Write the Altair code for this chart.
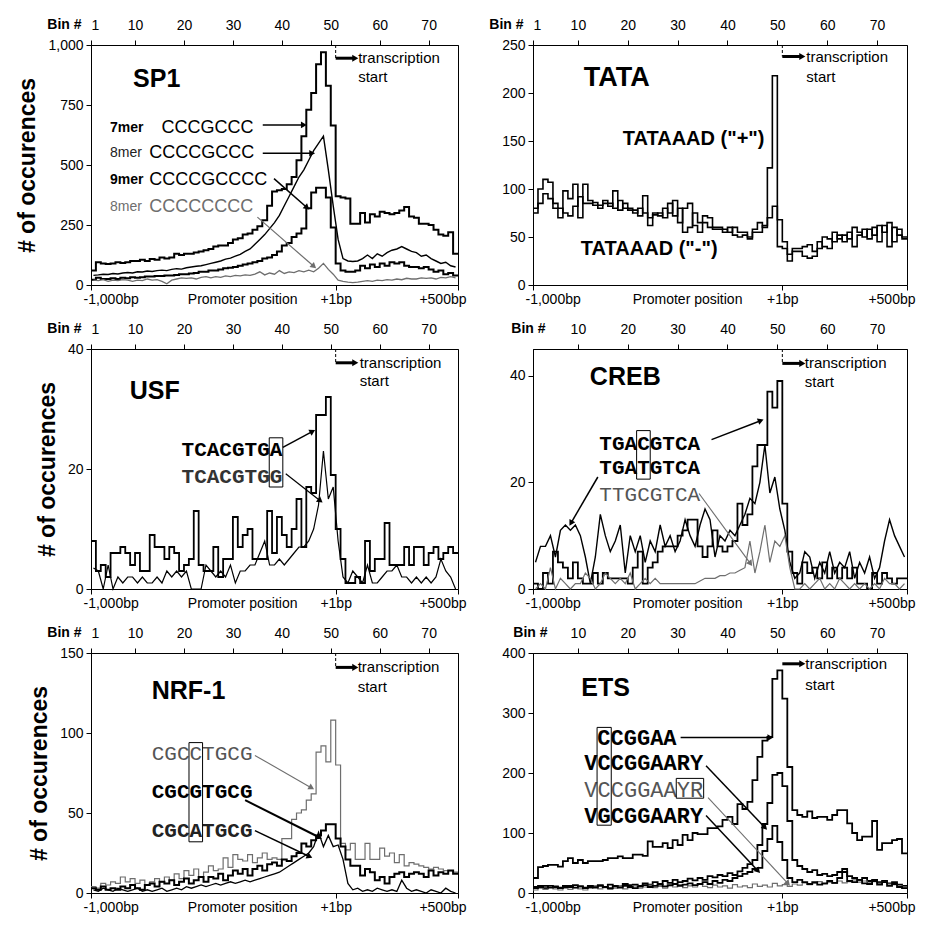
import math
import altair as alt
import pandas as pd

# ------------------------------------------------------------------ data
BIN_TICKS_FULL = [1, 10, 20, 30, 40, 50, 60, 70]
BIN_TICKS_SHORT = [10, 20, 30, 40, 50, 60, 70]
BOTTOM_VALUES = [1, 51, 76]
BOTTOM_LABELS = ["-1,000bp", "+1bp", "+500bp"]

# SP1
sp1_7mer = [60, 95, 90, 88, 90, 95, 92, 95, 100, 100, 105, 100, 108, 105, 115,
            110, 115, 130, 125, 130, 130, 135, 140, 145, 150, 160, 165, 165, 175, 190,
            195, 210, 215, 230, 245, 270, 330, 390, 395, 400, 420, 450, 520, 620, 730,
            800, 920, 970, 830, 665, 370, 365, 360, 255, 255, 300, 260, 295, 285, 305,
            300, 295, 300, 310, 325, 285, 280, 255, 255, 250, 230, 210, 205, 220, 130]
sp1_8mer = [40, 42, 45, 44, 48, 46, 50, 52, 50, 55, 54, 58, 56, 60, 62,
            60, 65, 68, 66, 72, 75, 78, 80, 85, 90, 95, 100, 108, 112, 120,
            128, 140, 150, 170, 190, 210, 235, 260, 290, 330, 370, 410, 450, 480, 520,
            560, 590, 620, 480, 330, 190, 110, 100, 98, 100, 110, 125, 110, 130, 120,
            135, 145, 150, 160, 150, 140, 135, 120, 125, 110, 100, 90, 95, 80, 75]
sp1_9mer = [22, 30, 25, 25, 28, 25, 30, 28, 32, 30, 32, 35, 35, 38, 38,
            40, 40, 42, 45, 45, 48, 50, 55, 55, 60, 60, 65, 70, 72, 75,
            80, 85, 90, 95, 100, 110, 115, 125, 140, 165, 175, 200, 215, 235, 320,
            385, 405, 405, 365, 240, 90, 60, 55, 55, 60, 80, 70, 85, 75, 90,
            80, 95, 90, 95, 80, 75, 75, 70, 75, 65, 55, 60, 45, 50, 40]
sp1_c8 = [20, 18, 22, 15, 20, 18, 22, 20, 15, 20, 18, 25, 20, 22, 15,
          5, 20, 25, 30, 28, 30, 25, 32, 35, 30, 35, 32, 38, 35, 40,
          38, 42, 40, 45, 55, 42, 50, 45, 60, 48, 55, 52, 60, 55, 62,
          55, 70, 90, 65, 45, 20, 15, 12, 10, 12, 15, 18, 15, 20, 18,
          22, 20, 25, 22, 28, 25, 25, 30, 28, 30, 25, 32, 30, 35, 30]

# TATA
tata_plus = [80, 100, 110, 107, 80, 70, 98, 90, 105, 70, 105, 88, 86, 83, 88,
             82, 98, 78, 85, 80, 78, 72, 93, 70, 75, 72, 80, 75, 88, 65,
             80, 85, 62, 55, 72, 70, 60, 60, 58, 55, 60, 55, 55, 50, 58,
             65, 60, 122, 218, 68, 45, 32, 38, 38, 40, 42, 35, 45, 40, 38,
             55, 48, 52, 48, 60, 55, 50, 58, 52, 62, 55, 65, 45, 58, 50]
tata_minus = [75, 85, 95, 90, 85, 80, 75, 72, 82, 92, 85, 85, 83, 80, 85,
              85, 80, 88, 80, 78, 75, 80, 75, 62, 73, 75, 70, 85, 72, 80,
              55, 60, 75, 65, 65, 60, 58, 58, 55, 60, 52, 50, 52, 48, 55,
              55, 62, 70, 82, 40, 38, 25, 35, 35, 30, 28, 30, 38, 50, 48,
              45, 52, 45, 55, 40, 52, 58, 48, 60, 45, 62, 40, 60, 52, 48]

# USF
usf_a = [8, 3, 4, 2, 6, 6, 7, 6, 4, 6, 3, 3, 9, 7, 7,
         5, 7, 6, 3, 4, 5, 13, 4, 3, 3, 7, 2, 5, 5, 12,
         7, 9, 10, 5, 5, 5, 13, 6, 12, 9, 7, 10, 15, 7, 17,
         16, 29, 29, 32, 19, 10, 5, 1, 1, 2, 1, 8, 3, 5, 5,
         11, 4, 4, 4, 7, 4, 7, 7, 4, 6, 7, 5, 6, 7, 6]
usf_g = [3.5, 3, 0, 4, 0, 2, 1, 2, 2, 1, 2, 1, 1, 2, 1,
         3, 2, 3, 2, 3, 0, 0, 0, 4, 3, 2, 3, 2, 4, 1,
         3, 3, 4, 4, 6, 8, 4, 4, 5, 4, 5, 6, 7, 7, 8,
         10, 14, 23, 15, 17, 8, 2, 1, 3, 2, 1, 4, 1, 1, 2,
         3, 3, 4, 2, 2, 1, 2, 1, 2, 1, 2, 5, 3, 2, 0]

# CREB
creb_c = [1, 0, 3, 1, 7, 5, 4, 2, 5, 2, 1, 1, 3, 1, 3,
          2, 2, 2, 2, 1, 4, 7, 1, 4, 5, 7, 8, 8, 8, 10,
          11, 13, 13, 8, 6, 8, 11, 8, 7, 8, 9, 16, 12, 14, 23,
          27, 27, 37, 34, 39, 16, 7, 3, 1, 5, 3, 4, 2, 5, 2,
          4, 2, 4, 2, 4, 1, 1, 0, 3, 1, 3, 2, 1, 2, 2]
creb_t = [5, 8, 8, 10, 6, 11, 12, 11, 12, 10, 6, 1, 6, 14, 10,
          7, 9, 12, 3, 10, 7, 10, 5, 9, 7, 12, 8, 10, 7, 9,
          13, 10, 8, 12, 15, 13, 6, 10, 9, 11, 10, 12, 14, 17, 16,
          20, 27, 18, 21, 15, 11, 5, 2, 3, 7, 6, 2, 5, 3, 7,
          3, 5, 4, 7, 2, 5, 3, 6, 2, 4, 9, 13, 10, 8, 6]
creb_g = [0, 1, 0, 4, 0, 2, 1, 0, 1, 1, 3, 2, 0, 1, 3,
          2, 1, 2, 1, 3, 0, 1, 2, 1, 2, 1, 1, 1, 1, 1,
          1, 1, 1, 1.5, 2, 2, 2, 2.5, 2.5, 3, 3, 3.5, 4, 9, 3,
          7, 12, 5, 9, 8, 10, 4, 0, 0, 1, 0, 1, 2, 0, 1,
          0, 2, 1, 0, 1, 0, 1, 0, 1, 0, 2, 1, 1, 0, 1]

# NRF-1
nrf_c = [4, 3, 6, 5, 7, 6, 10, 7, 9, 6, 8, 5, 7, 9, 7,
         10, 8, 12, 9, 14, 11, 15, 10, 13, 17, 14, 15, 22, 16, 24,
         21, 20, 24, 19, 22, 25, 21, 22, 21, 34, 34, 46, 50, 52, 58,
         62, 88, 92, 82, 108, 80, 31, 27, 31, 21, 21, 31, 21, 21, 28,
         23, 25, 19, 24, 17, 19, 18, 17, 16, 15, 16, 15, 14, 14, 13]
nrf_g = [3, 2, 4, 2, 3, 2, 4, 3, 5, 3, 2, 5, 6, 4, 7,
         6, 8, 5, 7, 9, 6, 8, 10, 7, 10, 9, 12, 8, 11, 14,
         12, 15, 11, 15, 17, 14, 18, 19, 17, 21, 20, 23, 25, 31, 29,
         33, 36, 39, 43, 43, 34, 29, 21, 17, 17, 11, 15, 13, 8, 10,
         6, 10, 12, 13, 10, 12, 13, 12, 10, 14, 11, 13, 12, 14, 12]
nrf_a = [2, 1, 3, 2, 1, 3, 2, 1, 2, 3, 1, 2, 1, 2, 3,
         1, 2, 3, 2, 4, 3, 4, 5, 4, 5, 6, 5, 6, 7, 6,
         7, 8, 7, 8, 9, 10, 11, 12, 13, 15, 17, 19, 21, 23, 25,
         29, 38, 29, 36, 29, 30, 21, 6, 2, 3, 1, 2, 1, 3, 2,
         1, 2, 1, 8, 3, 1, 2, 1, 0, 2, 1, 0, 3, 1, 0]

# ETS
ets_a = [25, 43, 45, 47, 47, 44, 53, 58, 50, 55, 50, 53, 53, 53, 55,
         58, 58, 61, 58, 58, 64, 64, 62, 86, 77, 77, 83, 75, 88, 80,
         97, 88, 100, 98, 98, 108, 108, 111, 122, 127, 115, 148, 140, 152, 188,
         227, 254, 260, 357, 371, 324, 210, 138, 130, 127, 136, 125, 127, 127, 122,
         130, 138, 138, 116, 100, 88, 94, 94, 120, 72, 83, 83, 88, 90, 66]
ets_b = [10, 12, 8, 12, 10, 9, 12, 10, 13, 11, 9, 12, 11, 13, 10,
         14, 12, 11, 15, 13, 14, 12, 16, 14, 18, 15, 20, 17, 22, 18,
         20, 24, 21, 25, 22, 28, 26, 30, 28, 33, 30, 36, 42, 48, 55,
         80, 115, 150, 197, 200, 178, 120, 55, 45, 40, 35, 38, 30, 32, 28,
         30, 35, 40, 28, 25, 22, 25, 20, 22, 18, 20, 16, 18, 14, 12]
ets_yr = [5, 8, 6, 10, 7, 5, 8, 6, 9, 7, 5, 8, 10, 7, 9,
          6, 8, 11, 7, 9, 12, 8, 10, 13, 9, 11, 8, 12, 10, 14,
          9, 12, 10, 15, 11, 9, 13, 10, 12, 8, 14, 10, 12, 9, 15,
          11, 13, 10, 16, 12, 14, 11, 15, 13, 17, 14, 16, 19, 15, 18,
          16, 20, 17, 19, 22, 18, 20, 17, 19, 16, 18, 15, 14, 12, 10]
ets_g = [8, 10, 12, 9, 11, 8, 10, 12, 9, 11, 8, 10, 9, 12, 10,
         8, 11, 9, 12, 10, 8, 11, 13, 10, 12, 14, 11, 13, 15, 12,
         14, 16, 13, 15, 18, 15, 20, 17, 22, 20, 25, 28, 32, 35, 40,
         42, 70, 90, 112, 85, 55, 25, 18, 22, 18, 15, 18, 14, 16, 20,
         17, 25, 35, 20, 18, 22, 16, 15, 20, 14, 18, 12, 15, 10, 8]

# ------------------------------------------------------------------ style
FONT = "Liberation Sans"
MONO = "Courier New, Nimbus Mono PS, Nimbus Mono L, FreeMono, Liberation Mono, monospace"
GRAY = "#6e6e6e"
NB = 75


def series_df(vals, kind):
    if kind == "step":
        xs = list(range(1, NB + 2))
        ys = list(vals) + [vals[-1]]
    else:
        xs = [i + 0.5 for i in range(1, NB + 1)]
        ys = list(vals)
    return pd.DataFrame({"x": xs, "y": ys})


def panel(W, H, ymax, yticks, yfmt, ytitle, top_vals, bin_title_x,
          series, texts, arrows, boxes, tss, tss_dash=True):
    xs = alt.Scale(domain=[1, 76], nice=False, zero=False)
    ys = alt.Scale(domain=[0, ymax], nice=False, zero=True)
    pxb = W / NB
    pxu = H / ymax
    yargs = dict(values=yticks, format=yfmt, tickSize=5, labelPadding=3,
                 labelFontSize=14)
    if ytitle:
        yaxis = alt.Axis(title=ytitle, titleFontSize=23, titleFontWeight="bold",
                         titlePadding=8, **yargs)
    else:
        yaxis = alt.Axis(title=None, **yargs)

    bottom_axis = alt.Axis(
        orient="bottom", values=BOTTOM_VALUES, title=None,
        labelExpr="datum.value == 1 ? '-1,000bp' : (datum.value == 51 ? '+1bp' : '+500bp')",
        labelFlush=True, labelFlushOffset=8, tickSize=5, labelPadding=2,
        labelFontSize=14)
    top_axis = alt.Axis(
        orient="top", values=top_vals, title="Bin #", titleFontWeight="bold",
        titleFontSize=14, titleAngle=0, titleAlign="right",
        titleBaseline="middle", titleX=bin_title_x, titleY=-21,
        tickSize=5, labelPadding=8, labelFontSize=14)

    def X(field, axis=None):
        return alt.X(field, type="quantitative", scale=xs, axis=axis)

    def Y(field):
        return alt.Y(field, type="quantitative", scale=ys, axis=yaxis)

    layers = []
    for k, s in enumerate(series):
        df = series_df(s["vals"], s["kind"])
        mk = dict(color=s["color"], strokeWidth=s["width"])
        if s["kind"] == "step":
            mk["interpolate"] = "step-after"
        ax = bottom_axis if k == 0 else None
        layers.append(alt.Chart(df).mark_line(**mk).encode(x=X("x", ax), y=Y("y")))

    # top (bin) axis carrier
    layers.append(alt.Chart(pd.DataFrame({"x": [1], "y": [0]}))
                  .mark_point(opacity=0).encode(x=X("x", top_axis), y=Y("y")))

    # "Promoter position" label below
    layers.append(alt.Chart(pd.DataFrame({"x": [32], "t": ["Promoter position"]}))
                  .mark_text(font=FONT, fontSize=14, color="black", baseline="middle")
                  .encode(x=X("x"), y=alt.value(H + 15), text="t:N"))

    # transcription start
    tx, ty, ty2 = tss
    if tss_dash:
        layers.append(alt.Chart(pd.DataFrame({"x": [51], "y": [ymax], "y2": [ty]}))
                      .mark_rule(color="black", strokeWidth=1, strokeDash=[3, 2])
                      .encode(x=X("x"), y=Y("y"), y2="y2"))
    arrows = list(arrows) + [dict(x=51, y=ty, x2=54.8, y2=ty, color="black",
                                  width=3, head=50)]
    layers.append(alt.Chart(pd.DataFrame({"x": [tx, tx], "y": [ty, ty2],
                                          "t": ["transcription", "start"]}))
                  .mark_text(font=FONT, fontSize=15, color="black", align="left",
                             baseline="middle")
                  .encode(x=X("x"), y=Y("y"), text="t:N"))

    # texts
    for t in texts:
        layers.append(alt.Chart(pd.DataFrame({"x": [t["x"]], "y": [t["y"]],
                                              "t": [t["text"]]}))
                      .mark_text(font=t.get("font", FONT), fontSize=t["size"],
                                 fontWeight=t.get("weight", "normal"),
                                 color=t.get("color", "black"), align="left",
                                 baseline="middle")
                      .encode(x=X("x"), y=Y("y"), text="t:N"))

    # boxes (letter frames)
    for b in boxes:
        cw = 0.6 * b["size"] / pxb
        x1 = b["x0"] + b["i0"] * cw - 0.1
        x2 = b["x0"] + b["i1"] * cw + 0.1
        layers.append(alt.Chart(pd.DataFrame({"x": [x1], "x2": [x2],
                                              "y": [b["y0"]], "y2": [b["y1"]]}))
                      .mark_rect(fillOpacity=0, stroke="black", strokeWidth=1)
                      .encode(x=X("x"), x2="x2", y=Y("y"), y2="y2"))

    # arrows
    for a in arrows:
        dx = (a["x2"] - a["x"]) * pxb
        dy = (a["y2"] - a["y"]) * pxu
        ang = math.degrees(math.atan2(dx, dy)) % 360
        df = pd.DataFrame({"x": [a["x"]], "y": [a["y"]], "x2": [a["x2"]],
                           "y2": [a["y2"]], "ang": [ang]})
        layers.append(alt.Chart(df).mark_rule(color=a["color"], strokeWidth=a["width"])
                      .encode(x=X("x"), y=Y("y"), x2="x2", y2="y2"))
        layers.append(alt.Chart(df).mark_point(shape="triangle", filled=True,
                                               size=a.get("head", 45),
                                               color=a["color"], opacity=1)
                      .encode(x=X("x2"), y=Y("y2"),
                              angle=alt.Angle("ang:Q", scale=None)))

    return alt.layer(*layers).resolve_axis(x="independent").properties(width=W, height=H)


WL, WR, H = 367, 374, 240
BLK = "black"


def S(vals, kind, color=BLK, width=1.3):
    return dict(vals=vals, kind=kind, color=color, width=width)


def T(text, x, y, size, weight="normal", color=BLK, font=FONT):
    return dict(text=text, x=x, y=y, size=size, weight=weight, color=color, font=font)


def A(x, y, x2, y2, color=BLK, width=1.5):
    return dict(x=x, y=y, x2=x2, y2=y2, color=color, width=width)


sp1 = panel(WL, H, 1000, [0, 250, 500, 750, 1000], ",d", "# of occurences",
            BIN_TICKS_FULL, -10,
            [S(sp1_7mer, "step", width=2), S(sp1_8mer, "line", width=1.4),
             S(sp1_9mer, "step", width=2), S(sp1_c8, "line", GRAY, 1.3)],
            [T("SP1", 9.6, 860, 25, "bold"),
             T("7mer", 4.9, 654, 14, "bold"), T("CCCGCCC", 15.4, 654, 18),
             T("8mer", 4.9, 549, 14, "normal", "#222"), T("CCCCGCCC", 12.9, 549, 18),
             T("9mer", 4.9, 439, 14, "bold"), T("CCCCGCCCC", 12.9, 439, 18),
             T("8mer", 4.9, 325, 14, "normal", GRAY), T("CCCCCCCC", 12.9, 325, 18, "normal", GRAY)],
            [A(36.1, 667, 44.3, 667), A(36.1, 549, 46.0, 549),
             A(38.4, 443, 45.0, 325), A(35.0, 283, 46.4, 80, GRAY, 1.2)],
            [], (55.6, 945, 865))

tata = panel(WR, H, 250, [0, 50, 100, 150, 200, 250], "d", None,
             BIN_TICKS_FULL, -10,
             [S(tata_plus, "step", width=1.6), S(tata_minus, "step", width=1.6)],
             [T("TATA", 11.2, 216, 27, "bold"),
              T('TATAAAD ("+")', 19.0, 152, 20, "bold"),
              T('TATAAAD ("-")', 10.6, 37, 20, "bold")],
             [], [], (55.8, 238, 217))

usf = panel(WL, H, 40, [0, 20, 40], "d", "# of occurences",
            BIN_TICKS_FULL, -10,
            [S(usf_a, "step", width=1.8), S(usf_g, "line", width=1.2)],
            [T("USF", 8.9, 33, 25, "bold"),
             T("TCACGTGA", 19.5, 23.1, 21, "bold", BLK, MONO),
             T("TCACGTGG", 19.5, 18.7, 21, "bold", "#333", MONO)],
            [A(40.2, 23.6, 46.1, 26.2), A(40.8, 19.2, 47.7, 14.8, BLK, 1.2)],
            [dict(x0=19.5, i0=7, i1=8, size=21, y0=17.0, y1=25.2)],
            (55.9, 37.7, 34.6))

creb = panel(WR, H, 45, [0, 20, 40], "d", None,
             BIN_TICKS_SHORT, 12,
             [S(creb_c, "step", width=1.8), S(creb_t, "line", width=1.4),
              S(creb_g, "line", GRAY, 1.2)],
             [T("CREB", 12.4, 39.7, 25, "bold"),
              T("TGACGTCA", 14.3, 27.2, 21, "bold", BLK, MONO),
              T("TGATGTCA", 14.3, 22.6, 21, "bold", BLK, MONO),
              T("TTGCGTCA", 14.3, 17.7, 21, "normal", "#555", MONO)],
             [A(36.8, 28.0, 46.5, 31.5), A(14.0, 21.0, 8.7, 12.5),
              A(34.3, 17.9, 44.5, 4.9, GRAY, 1.1)],
             [dict(x0=14.3, i0=3, i1=4, size=21, y0=20.6, y1=29.7)],
             (55.5, 42.3, 38.8))

nrf = panel(WL, H, 150, [0, 50, 100, 150], "d", "# of occurences",
            BIN_TICKS_FULL, -10,
            [S(nrf_c, "step", GRAY, 1.2), S(nrf_g, "step", width=2),
             S(nrf_a, "line", width=1.3)],
            [T("NRF-1", 13.4, 126, 25, "bold"),
             T("CGCCTGCG", 13.4, 87, 21, "normal", "#555", MONO),
             T("CGCGTGCG", 13.4, 63, 21, "bold", BLK, MONO),
             T("CGCATGCG", 13.4, 39, 21, "bold", "#222", MONO)],
            [A(34.5, 86, 45.9, 66, GRAY, 1.1), A(32.5, 58, 47.5, 35, BLK, 2),
             A(34.5, 39, 45.5, 23)],
            [dict(x0=13.4, i0=3, i1=4, size=21, y0=32, y1=94)],
            (55.5, 141, 129))

ets = panel(WR, H, 400, [0, 100, 200, 300, 400], "d", None,
            BIN_TICKS_SHORT, 14,
            [S(ets_a, "step", width=1.8), S(ets_b, "step", width=1.8),
             S(ets_yr, "step", GRAY, 1.2), S(ets_g, "step", width=1.8)],
            [T("ETS", 10.7, 342, 25, "bold"),
             T("CCGGAA", 13.9, 259, 22, "bold", BLK, MONO),
             T("VCCGGAARY", 11.3, 216, 22, "bold", BLK, MONO),
             T("VCCGGAAYR", 11.3, 171, 22, "normal", "#555", MONO),
             T("VGCGGAARY", 11.3, 129, 22, "bold", BLK, MONO)],
            [A(30.6, 259, 48.4, 259), A(35.7, 212, 47.4, 110),
             A(36.1, 159, 52.0, 17, GRAY, 1.1), A(35.7, 129, 46.0, 38)],
            [dict(x0=11.3, i0=1, i1=2, size=22, y0=113, y1=276),
             dict(x0=11.3, i0=7, i1=9, size=22, y0=158, y1=191)],
            (55.6, 382, 347), tss_dash=False)

chart = (alt.concat(sp1, tata, usf, creb, nrf, ets, columns=2,
                    spacing={"row": 64, "column": 75}, bounds="flush")
         .properties(padding={"left": 8, "top": 8, "right": 0, "bottom": 2},
                     background="white")
         .configure_view(stroke="black", strokeWidth=1)
         .configure_axis(domainColor="black", tickColor="black", labelColor="black",
                         titleColor="black", labelFont=FONT, titleFont=FONT,
                         grid=False, domainWidth=1, tickWidth=1))

chart.save("out.html", embed_options={"renderer": "svg", "actions": False})
